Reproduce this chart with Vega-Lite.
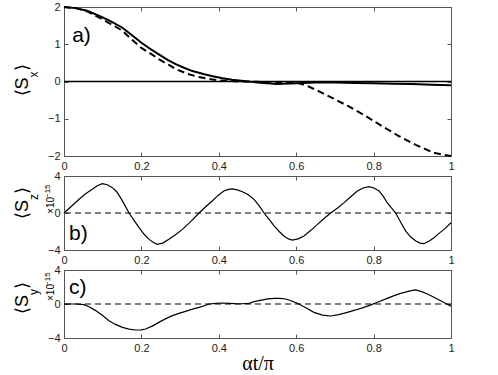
{
  "$schema": "https://vega.github.io/schema/vega-lite/v6.json",
  "background": "white",
  "padding": {"left": 13, "top": 0, "right": 5, "bottom": 0},
  "bounds": "flush",
  "spacing": 20,
  "datasets": {
    "aSolid": [
      {"x": 0, "y": 2}, {"x": 0.03, "y": 1.97}, {"x": 0.06, "y": 1.9}, {"x": 0.09, "y": 1.77}, {"x": 0.12, "y": 1.62},
      {"x": 0.15, "y": 1.45}, {"x": 0.175, "y": 1.25}, {"x": 0.2, "y": 1.04}, {"x": 0.225, "y": 0.86}, {"x": 0.245, "y": 0.73},
      {"x": 0.27, "y": 0.57}, {"x": 0.29, "y": 0.46}, {"x": 0.31, "y": 0.37}, {"x": 0.332, "y": 0.28}, {"x": 0.36, "y": 0.2},
      {"x": 0.384, "y": 0.14}, {"x": 0.41, "y": 0.09}, {"x": 0.434, "y": 0.05}, {"x": 0.47, "y": 0.01}, {"x": 0.5, "y": -0.03},
      {"x": 0.55, "y": -0.07}, {"x": 0.6, "y": -0.05}, {"x": 0.65, "y": -0.03}, {"x": 0.7, "y": -0.03}, {"x": 0.75, "y": -0.04},
      {"x": 0.8, "y": -0.05}, {"x": 0.85, "y": -0.06}, {"x": 0.9, "y": -0.07}, {"x": 0.95, "y": -0.09}, {"x": 1, "y": -0.1}
    ],
    "aDashed": [
      {"x": 0, "y": 2}, {"x": 0.03, "y": 1.97}, {"x": 0.06, "y": 1.88}, {"x": 0.09, "y": 1.72}, {"x": 0.12, "y": 1.55},
      {"x": 0.15, "y": 1.37}, {"x": 0.175, "y": 1.13}, {"x": 0.2, "y": 0.9}, {"x": 0.225, "y": 0.74}, {"x": 0.245, "y": 0.6},
      {"x": 0.27, "y": 0.45}, {"x": 0.29, "y": 0.33}, {"x": 0.32, "y": 0.2}, {"x": 0.349, "y": 0.12}, {"x": 0.375, "y": 0.07},
      {"x": 0.4, "y": 0.03}, {"x": 0.45, "y": 0.0}, {"x": 0.5, "y": -0.01}, {"x": 0.55, "y": -0.02}, {"x": 0.6, "y": -0.03},
      {"x": 0.625, "y": -0.1}, {"x": 0.65, "y": -0.22}, {"x": 0.693, "y": -0.44}, {"x": 0.736, "y": -0.67}, {"x": 0.78, "y": -0.93},
      {"x": 0.822, "y": -1.2}, {"x": 0.866, "y": -1.47}, {"x": 0.909, "y": -1.7}, {"x": 0.952, "y": -1.9}, {"x": 0.98, "y": -1.97},
      {"x": 1, "y": -2.0}
    ],
    "b": [
      {"x": 0, "y": 0}, {"x": 0.02, "y": 0.75}, {"x": 0.039, "y": 1.48}, {"x": 0.055, "y": 2.05}, {"x": 0.073, "y": 2.56},
      {"x": 0.086, "y": 2.95}, {"x": 0.099, "y": 3.17}, {"x": 0.112, "y": 3.05}, {"x": 0.125, "y": 2.74}, {"x": 0.136, "y": 2.3},
      {"x": 0.146, "y": 1.66}, {"x": 0.157, "y": 0.85}, {"x": 0.168, "y": 0}, {"x": 0.181, "y": -0.8}, {"x": 0.194, "y": -1.59},
      {"x": 0.207, "y": -2.3}, {"x": 0.22, "y": -2.85}, {"x": 0.231, "y": -3.2}, {"x": 0.241, "y": -3.39}, {"x": 0.255, "y": -3.25},
      {"x": 0.271, "y": -2.85}, {"x": 0.288, "y": -2.35}, {"x": 0.306, "y": -1.77}, {"x": 0.328, "y": -0.9}, {"x": 0.349, "y": 0},
      {"x": 0.366, "y": 0.68}, {"x": 0.383, "y": 1.3}, {"x": 0.398, "y": 1.9}, {"x": 0.413, "y": 2.38}, {"x": 0.425, "y": 2.55},
      {"x": 0.435, "y": 2.6}, {"x": 0.448, "y": 2.5}, {"x": 0.461, "y": 2.3}, {"x": 0.475, "y": 2.0}, {"x": 0.491, "y": 1.48},
      {"x": 0.504, "y": 0.8}, {"x": 0.517, "y": 0}, {"x": 0.53, "y": -0.7}, {"x": 0.543, "y": -1.4}, {"x": 0.556, "y": -2.0},
      {"x": 0.568, "y": -2.49}, {"x": 0.58, "y": -2.8}, {"x": 0.59, "y": -2.92}, {"x": 0.605, "y": -2.8}, {"x": 0.62, "y": -2.49},
      {"x": 0.637, "y": -1.9}, {"x": 0.655, "y": -1.23}, {"x": 0.672, "y": -0.6}, {"x": 0.689, "y": 0}, {"x": 0.707, "y": 0.55},
      {"x": 0.724, "y": 1.12}, {"x": 0.741, "y": 1.75}, {"x": 0.758, "y": 2.38}, {"x": 0.773, "y": 2.7}, {"x": 0.788, "y": 2.85},
      {"x": 0.801, "y": 2.7}, {"x": 0.814, "y": 2.38}, {"x": 0.825, "y": 1.8}, {"x": 0.835, "y": 1.12}, {"x": 0.846, "y": 0.55},
      {"x": 0.857, "y": 0}, {"x": 0.87, "y": -1.0}, {"x": 0.883, "y": -1.95}, {"x": 0.896, "y": -2.6}, {"x": 0.909, "y": -3.03},
      {"x": 0.92, "y": -3.25}, {"x": 0.93, "y": -3.32}, {"x": 0.943, "y": -3.05}, {"x": 0.956, "y": -2.67}, {"x": 0.969, "y": -2.2},
      {"x": 0.982, "y": -1.77}, {"x": 1.0, "y": -1.05}
    ],
    "c": [
      {"x": 0, "y": 0}, {"x": 0.03, "y": 0}, {"x": 0.052, "y": -0.08}, {"x": 0.066, "y": -0.35}, {"x": 0.082, "y": -0.78},
      {"x": 0.1, "y": -1.35}, {"x": 0.116, "y": -1.96}, {"x": 0.133, "y": -2.4}, {"x": 0.151, "y": -2.75}, {"x": 0.168, "y": -2.95},
      {"x": 0.185, "y": -3.06}, {"x": 0.2, "y": -3.05}, {"x": 0.211, "y": -2.94}, {"x": 0.228, "y": -2.6}, {"x": 0.245, "y": -2.16},
      {"x": 0.262, "y": -1.75}, {"x": 0.28, "y": -1.37}, {"x": 0.297, "y": -1.1}, {"x": 0.314, "y": -0.86}, {"x": 0.332, "y": -0.6},
      {"x": 0.349, "y": -0.39}, {"x": 0.362, "y": -0.2}, {"x": 0.375, "y": 0}, {"x": 0.392, "y": 0.08}, {"x": 0.409, "y": 0.12},
      {"x": 0.426, "y": 0.08}, {"x": 0.444, "y": 0.04}, {"x": 0.46, "y": 0.03}, {"x": 0.478, "y": 0.08}, {"x": 0.491, "y": 0.27},
      {"x": 0.51, "y": 0.45}, {"x": 0.527, "y": 0.6}, {"x": 0.543, "y": 0.67}, {"x": 0.558, "y": 0.67}, {"x": 0.573, "y": 0.59},
      {"x": 0.588, "y": 0.35}, {"x": 0.603, "y": 0.08}, {"x": 0.625, "y": -0.45}, {"x": 0.646, "y": -0.98}, {"x": 0.668, "y": -1.3},
      {"x": 0.689, "y": -1.41}, {"x": 0.71, "y": -1.25}, {"x": 0.732, "y": -0.98}, {"x": 0.754, "y": -0.7}, {"x": 0.775, "y": -0.39},
      {"x": 0.793, "y": -0.1}, {"x": 0.81, "y": 0.2}, {"x": 0.832, "y": 0.6}, {"x": 0.853, "y": 0.98}, {"x": 0.87, "y": 1.25},
      {"x": 0.887, "y": 1.45}, {"x": 0.9, "y": 1.6}, {"x": 0.909, "y": 1.65}, {"x": 0.924, "y": 1.45}, {"x": 0.939, "y": 1.18},
      {"x": 0.956, "y": 0.8}, {"x": 0.973, "y": 0.39}, {"x": 0.987, "y": 0.05}, {"x": 1.0, "y": -0.27}
    ],
    "zero": [{"y": 0}]
  },
  "vconcat": [
    {
      "width": 387, "height": 149,
      "resolve": {"axis": {"x": "independent", "y": "independent"}},
      "layer": [
        {"data": {"name": "zero"}, "mark": {"type": "rule", "color": "black", "strokeWidth": 1.5},
         "encoding": {"y": {"field": "y", "type": "quantitative", "scale": {"domain": [-2, 2]}, "axis": null}}},
        {"data": {"name": "aDashed"}, "mark": {"type": "line", "color": "black", "strokeWidth": 2, "strokeDash": [7, 4]},
         "encoding": {"x": {"field": "x", "type": "quantitative", "scale": {"domain": [0, 1]}, "axis": null},
                      "y": {"field": "y", "type": "quantitative", "scale": {"domain": [-2, 2]}, "axis": null}}},
        {"data": {"name": "aSolid"}, "mark": {"type": "line", "color": "black", "strokeWidth": 2},
         "encoding": {"x": {"field": "x", "type": "quantitative", "scale": {"domain": [0, 1]}, "title": null, "axis": {"values": [0, 0.2, 0.4, 0.6, 0.8, 1], "format": "~g"}},
                      "y": {"field": "y", "type": "quantitative", "scale": {"domain": [-2, 2]}, "title": null, "axis": {"values": [-2, -1, 0, 1, 2]}}}},
        {"data": {"name": "aSolid"}, "mark": {"type": "point", "opacity": 0},
         "encoding": {"x": {"field": "x", "type": "quantitative", "scale": {"domain": [0, 1]}, "title": null, "axis": {"orient": "top", "labels": false, "values": [0, 0.2, 0.4, 0.6, 0.8, 1]}},
                      "y": {"field": "y", "type": "quantitative", "scale": {"domain": [-2, 2]}, "title": null, "axis": {"orient": "right", "labels": false, "values": [-2, -1, 0, 1, 2]}}}},
        {"data": {"values": [{"x": 0.021, "y": 1.05, "t": "a)"}]}, "mark": {"type": "text", "align": "left", "baseline": "alphabetic", "fontSize": 21, "font": "Liberation Sans"},
         "encoding": {"x": {"field": "x", "type": "quantitative", "scale": {"domain": [0, 1]}, "axis": null},
                      "y": {"field": "y", "type": "quantitative", "scale": {"domain": [-2, 2]}, "axis": null}, "text": {"field": "t"}}},
        {"data": {"values": [{"x": -0.093, "y": 0.11, "t": "⟨S"}]}, "mark": {"type": "text", "angle": 270, "align": "right", "baseline": "alphabetic", "fontSize": 18, "font": "Liberation Sans"},
         "encoding": {"x": {"field": "x", "type": "quantitative", "scale": {"domain": [0, 1]}, "axis": null},
                      "y": {"field": "y", "type": "quantitative", "scale": {"domain": [-2, 2]}, "axis": null}, "text": {"field": "t"}}},
        {"data": {"values": [{"x": -0.067, "y": 0.11, "t": "x"}]}, "mark": {"type": "text", "angle": 270, "align": "left", "baseline": "alphabetic", "fontSize": 12, "font": "Liberation Sans"},
         "encoding": {"x": {"field": "x", "type": "quantitative", "scale": {"domain": [0, 1]}, "axis": null},
                      "y": {"field": "y", "type": "quantitative", "scale": {"domain": [-2, 2]}, "axis": null}, "text": {"field": "t"}}},
        {"data": {"values": [{"x": -0.093, "y": 0.27, "t": "⟩"}]}, "mark": {"type": "text", "angle": 270, "align": "left", "baseline": "alphabetic", "fontSize": 18, "font": "Liberation Sans"},
         "encoding": {"x": {"field": "x", "type": "quantitative", "scale": {"domain": [0, 1]}, "axis": null},
                      "y": {"field": "y", "type": "quantitative", "scale": {"domain": [-2, 2]}, "axis": null}, "text": {"field": "t"}}}
      ]
    },
    {
      "width": 387, "height": 74,
      "resolve": {"axis": {"x": "independent", "y": "independent"}},
      "layer": [
        {"data": {"name": "zero"}, "mark": {"type": "rule", "color": "black", "strokeWidth": 1.2, "strokeDash": [6, 4]},
         "encoding": {"y": {"field": "y", "type": "quantitative", "scale": {"domain": [-4, 4]}, "axis": null}}},
        {"data": {"name": "b"}, "mark": {"type": "line", "color": "black", "strokeWidth": 1.2},
         "encoding": {"x": {"field": "x", "type": "quantitative", "scale": {"domain": [0, 1]}, "title": null, "axis": {"values": [0, 0.2, 0.4, 0.6, 0.8, 1], "format": "~g"}},
                      "y": {"field": "y", "type": "quantitative", "scale": {"domain": [-4, 4]}, "title": null, "axis": {"values": [-4, 0, 4]}}}},
        {"data": {"name": "b"}, "mark": {"type": "point", "opacity": 0},
         "encoding": {"x": {"field": "x", "type": "quantitative", "scale": {"domain": [0, 1]}, "title": null, "axis": {"orient": "top", "labels": false, "values": [0, 0.2, 0.4, 0.6, 0.8, 1]}},
                      "y": {"field": "y", "type": "quantitative", "scale": {"domain": [-4, 4]}, "title": null, "axis": {"orient": "right", "labels": false, "values": [-4, 0, 4]}}}},
        {"data": {"values": [{"x": 0.013, "y": -2.92, "t": "b)"}]}, "mark": {"type": "text", "align": "left", "baseline": "alphabetic", "fontSize": 21, "font": "Liberation Sans"},
         "encoding": {"x": {"field": "x", "type": "quantitative", "scale": {"domain": [0, 1]}, "axis": null},
                      "y": {"field": "y", "type": "quantitative", "scale": {"domain": [-4, 4]}, "axis": null}, "text": {"field": "t"}}},
        {"data": {"values": [{"x": -0.026, "y": -0.1, "t": "×10"}]}, "mark": {"type": "text", "angle": 270, "align": "left", "baseline": "alphabetic", "fontSize": 10, "font": "Liberation Sans"},
         "encoding": {"x": {"field": "x", "type": "quantitative", "scale": {"domain": [0, 1]}, "axis": null},
                      "y": {"field": "y", "type": "quantitative", "scale": {"domain": [-4, 4]}, "axis": null}, "text": {"field": "t"}}},
        {"data": {"values": [{"x": -0.037, "y": 1.62, "t": "−15"}]}, "mark": {"type": "text", "angle": 270, "align": "left", "baseline": "alphabetic", "fontSize": 8, "font": "Liberation Sans"},
         "encoding": {"x": {"field": "x", "type": "quantitative", "scale": {"domain": [0, 1]}, "axis": null},
                      "y": {"field": "y", "type": "quantitative", "scale": {"domain": [-4, 4]}, "axis": null}, "text": {"field": "t"}}},
        {"data": {"values": [{"x": -0.093, "y": 1.41, "t": "⟨S"}]}, "mark": {"type": "text", "angle": 270, "align": "right", "baseline": "alphabetic", "fontSize": 18, "font": "Liberation Sans"},
         "encoding": {"x": {"field": "x", "type": "quantitative", "scale": {"domain": [0, 1]}, "axis": null},
                      "y": {"field": "y", "type": "quantitative", "scale": {"domain": [-4, 4]}, "axis": null}, "text": {"field": "t"}}},
        {"data": {"values": [{"x": -0.067, "y": 1.41, "t": "z"}]}, "mark": {"type": "text", "angle": 270, "align": "left", "baseline": "alphabetic", "fontSize": 12, "font": "Liberation Sans"},
         "encoding": {"x": {"field": "x", "type": "quantitative", "scale": {"domain": [0, 1]}, "axis": null},
                      "y": {"field": "y", "type": "quantitative", "scale": {"domain": [-4, 4]}, "axis": null}, "text": {"field": "t"}}},
        {"data": {"values": [{"x": -0.093, "y": 2.05, "t": "⟩"}]}, "mark": {"type": "text", "angle": 270, "align": "left", "baseline": "alphabetic", "fontSize": 18, "font": "Liberation Sans"},
         "encoding": {"x": {"field": "x", "type": "quantitative", "scale": {"domain": [0, 1]}, "axis": null},
                      "y": {"field": "y", "type": "quantitative", "scale": {"domain": [-4, 4]}, "axis": null}, "text": {"field": "t"}}}
      ]
    },
    {
      "width": 387, "height": 68,
      "resolve": {"axis": {"x": "independent", "y": "independent"}},
      "layer": [
        {"data": {"name": "zero"}, "mark": {"type": "rule", "color": "black", "strokeWidth": 1.2, "strokeDash": [6, 4]},
         "encoding": {"y": {"field": "y", "type": "quantitative", "scale": {"domain": [-4, 4]}, "axis": null}}},
        {"data": {"name": "c"}, "mark": {"type": "line", "color": "black", "strokeWidth": 1.2},
         "encoding": {"x": {"field": "x", "type": "quantitative", "scale": {"domain": [0, 1]}, "title": "αt/π", "axis": {"values": [0, 0.2, 0.4, 0.6, 0.8, 1], "format": "~g", "titleFont": "Liberation Serif", "titleFontSize": 20, "titleFontWeight": "normal", "titleColor": "black", "titlePadding": 0}},
                      "y": {"field": "y", "type": "quantitative", "scale": {"domain": [-4, 4]}, "title": null, "axis": {"values": [-4, 0, 4]}}}},
        {"data": {"name": "c"}, "mark": {"type": "point", "opacity": 0},
         "encoding": {"x": {"field": "x", "type": "quantitative", "scale": {"domain": [0, 1]}, "title": null, "axis": {"orient": "top", "labels": false, "values": [0, 0.2, 0.4, 0.6, 0.8, 1]}},
                      "y": {"field": "y", "type": "quantitative", "scale": {"domain": [-4, 4]}, "title": null, "axis": {"orient": "right", "labels": false, "values": [-4, 0, 4]}}}},
        {"data": {"values": [{"x": 0.013, "y": 1.18, "t": "c)"}]}, "mark": {"type": "text", "align": "left", "baseline": "alphabetic", "fontSize": 21, "font": "Liberation Sans"},
         "encoding": {"x": {"field": "x", "type": "quantitative", "scale": {"domain": [0, 1]}, "axis": null},
                      "y": {"field": "y", "type": "quantitative", "scale": {"domain": [-4, 4]}, "axis": null}, "text": {"field": "t"}}},
        {"data": {"values": [{"x": -0.026, "y": 0.35, "t": "×10"}]}, "mark": {"type": "text", "angle": 270, "align": "left", "baseline": "alphabetic", "fontSize": 10, "font": "Liberation Sans"},
         "encoding": {"x": {"field": "x", "type": "quantitative", "scale": {"domain": [0, 1]}, "axis": null},
                      "y": {"field": "y", "type": "quantitative", "scale": {"domain": [-4, 4]}, "axis": null}, "text": {"field": "t"}}},
        {"data": {"values": [{"x": -0.037, "y": 2.12, "t": "−15"}]}, "mark": {"type": "text", "angle": 270, "align": "left", "baseline": "alphabetic", "fontSize": 8, "font": "Liberation Sans"},
         "encoding": {"x": {"field": "x", "type": "quantitative", "scale": {"domain": [0, 1]}, "axis": null},
                      "y": {"field": "y", "type": "quantitative", "scale": {"domain": [-4, 4]}, "axis": null}, "text": {"field": "t"}}},
        {"data": {"values": [{"x": -0.093, "y": 1.06, "t": "⟨S"}]}, "mark": {"type": "text", "angle": 270, "align": "right", "baseline": "alphabetic", "fontSize": 18, "font": "Liberation Sans"},
         "encoding": {"x": {"field": "x", "type": "quantitative", "scale": {"domain": [0, 1]}, "axis": null},
                      "y": {"field": "y", "type": "quantitative", "scale": {"domain": [-4, 4]}, "axis": null}, "text": {"field": "t"}}},
        {"data": {"values": [{"x": -0.067, "y": 1.06, "t": "y"}]}, "mark": {"type": "text", "angle": 270, "align": "left", "baseline": "alphabetic", "fontSize": 12, "font": "Liberation Sans"},
         "encoding": {"x": {"field": "x", "type": "quantitative", "scale": {"domain": [0, 1]}, "axis": null},
                      "y": {"field": "y", "type": "quantitative", "scale": {"domain": [-4, 4]}, "axis": null}, "text": {"field": "t"}}},
        {"data": {"values": [{"x": -0.093, "y": 1.76, "t": "⟩"}]}, "mark": {"type": "text", "angle": 270, "align": "left", "baseline": "alphabetic", "fontSize": 18, "font": "Liberation Sans"},
         "encoding": {"x": {"field": "x", "type": "quantitative", "scale": {"domain": [0, 1]}, "axis": null},
                      "y": {"field": "y", "type": "quantitative", "scale": {"domain": [-4, 4]}, "axis": null}, "text": {"field": "t"}}}
      ]
    }
  ],
  "config": {
    "view": {"stroke": "#555", "strokeWidth": 1},
    "axis": {
      "domain": false, "grid": false,
      "labelFont": "Liberation Sans", "labelFontSize": 11, "labelColor": "#222",
      "labelFlush": false, "labelOverlap": false,
      "tickColor": "#555", "tickSize": -4, "tickWidth": 1, "labelPadding": 8
    },
    "text": {"color": "black"}
  }
}
